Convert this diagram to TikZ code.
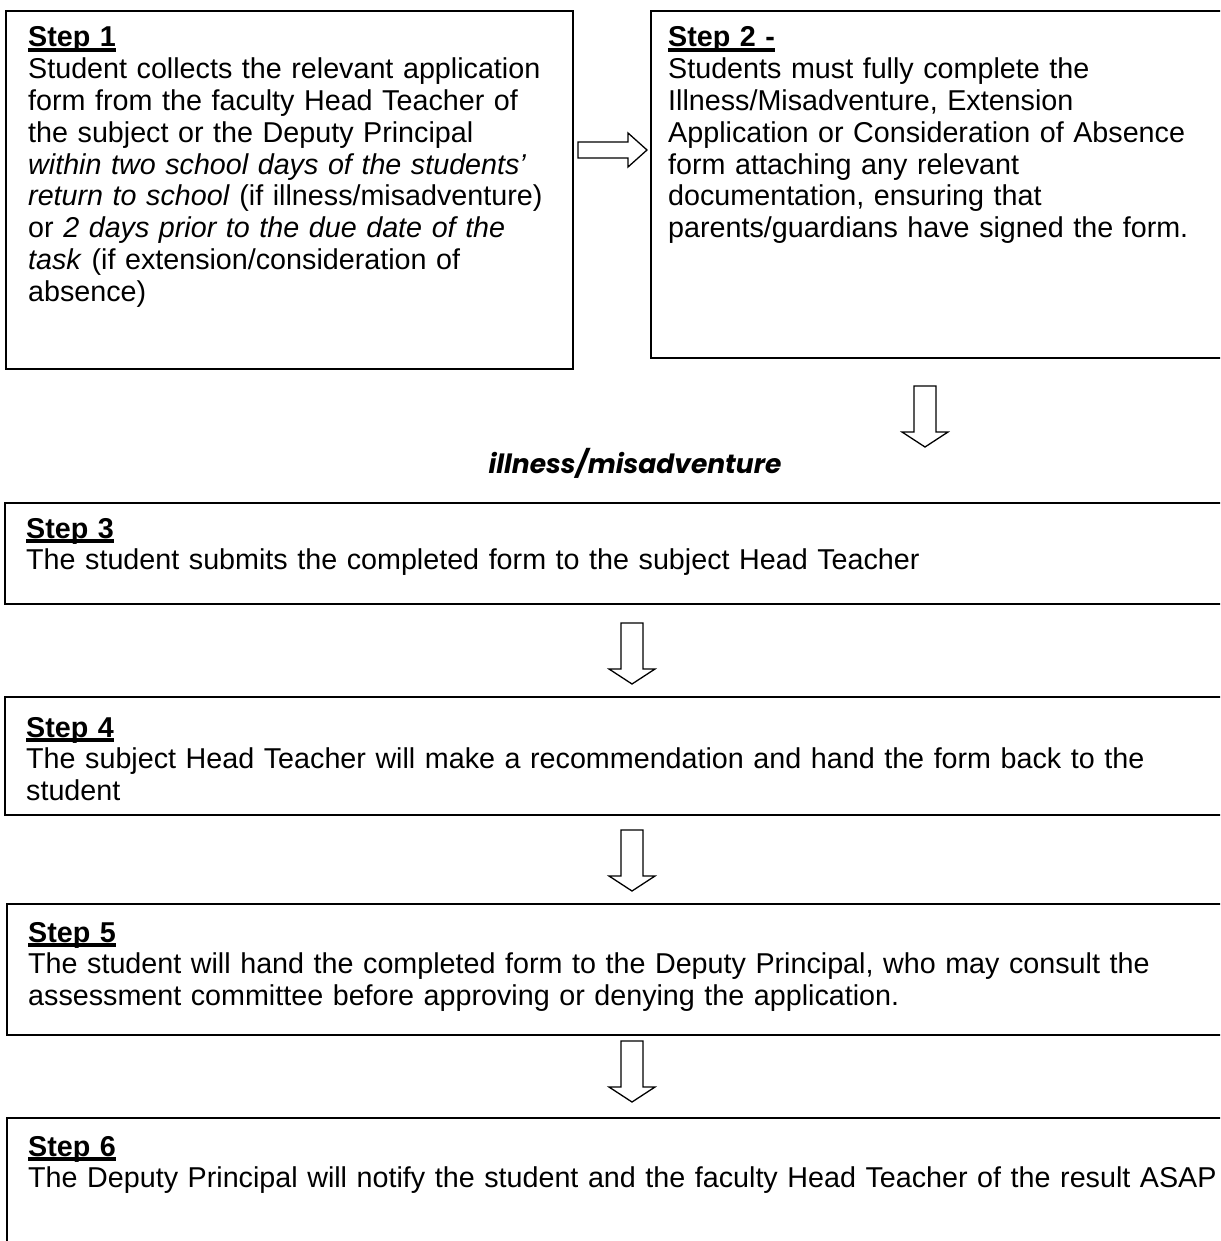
\documentclass[tikz,border=0pt]{standalone}
\usepackage{fontspec}
\setmainfont{Liberation Sans}
\newfontfamily\headfont{Poppins}
\usetikzlibrary{positioning,calc}
\newsavebox{\titlebox}
\newcommand{\steptitle}[1]{\sbox{\titlebox}{\textbf{#1}}\rlap{\rule[-4.8pt]{\wd\titlebox}{3.4pt}}\usebox{\titlebox}}
\tikzset{
  stepbox/.style={draw,line width=2pt,rectangle,anchor=north west,inner sep=0pt},
  steptext/.style={anchor=base west,inner sep=0pt,text width=1190pt,align=left,font=\fontsize{28.7}{31.8}\selectfont},
  hollowdown/.pic={\draw[line width=1.3pt,fill=white] (-11,0) -- (-11,46) -- (-23,46) -- (0,61) -- (23,46) -- (11,46) -- (11,0) -- cycle;},
  hollowright/.pic={\draw[line width=1.3pt,fill=white] (0,-8) -- (50,-8) -- (50,-17) -- (69,0) -- (50,17) -- (50,8) -- (0,8) -- cycle;}
}

\begin{document}
\begin{tikzpicture}[x=1pt,y=-1pt]
    \useasboundingbox (0,0) rectangle (1220,1241);
    \clip (0,0) rectangle (1220,1241);
    \node[stepbox,minimum width=567pt,minimum height=358pt] (box1) at (5,10) {}; %step1
    \node[steptext] (txt1) at (28,47) {\steptitle{Step 1}\\
      Student collects the relevant application\\
      form from the faculty Head Teacher of\\
      the subject or the Deputy Principal\\
      \textit{within two school days of the students'}\\
      \textit{return to school} (if illness/misadventure)\\
      or \textit{2 days prior to the due date of the}\\
      \textit{task} (if extension/consideration of\\
      absence)};
    \node[stepbox,minimum width=580pt,minimum height=347pt] (box2) at (650,10) {}; %step2
    \node[steptext] (txt2) at (668,47) {\steptitle{Step 2 -}\\
      Students must fully complete the\\
      Illness/Misadventure, Extension\\
      Application or Consideration of Absence\\
      form attaching any relevant\\
      documentation, ensuring that\\
      parents/guardians have signed the form.};
    \pic (arr12) at (578,150) {hollowright};
    \pic (arr2c) at (925,386) {hollowdown};
    \node[font=\headfont\bfseries\itshape\fontsize{26.5}{30}\selectfont] (cond) at (635,463) {illness/misadventure};
    \node[stepbox,minimum width=1226pt,minimum height=101pt] (box3) at (4,502) {}; %step3
    \node[steptext] (txt3) at (26,538) {\steptitle{Step 3}\\
      The student submits the completed form to the subject Head Teacher};
    \pic (arr34) at (632,623) {hollowdown};
    \node[stepbox,minimum width=1226pt,minimum height=118pt] (box4) at (4,696) {}; %step4
    \node[steptext] (txt4) at (26,737) {\steptitle{Step 4}\\
      The subject Head Teacher will make a recommendation and hand the form back to the\\
      student};
    \pic (arr45) at (632,830) {hollowdown};
    \node[stepbox,minimum width=1224pt,minimum height=131pt] (box5) at (6,903) {}; %step5
    \node[steptext] (txt5) at (28,942) {\steptitle{Step 5}\\
      The student will hand the completed form to the Deputy Principal, who may consult the\\
      assessment committee before approving or denying the application.};
    \pic (arr56) at (632,1041) {hollowdown};
    \node[stepbox,minimum width=1224pt,minimum height=140pt] (box6) at (6,1117) {}; %step6
    \node[steptext] (txt6) at (28,1156) {\steptitle{Step 6}\\
      The Deputy Principal will notify the student and the faculty Head Teacher of the result ASAP};
\end{tikzpicture}
\end{document}
